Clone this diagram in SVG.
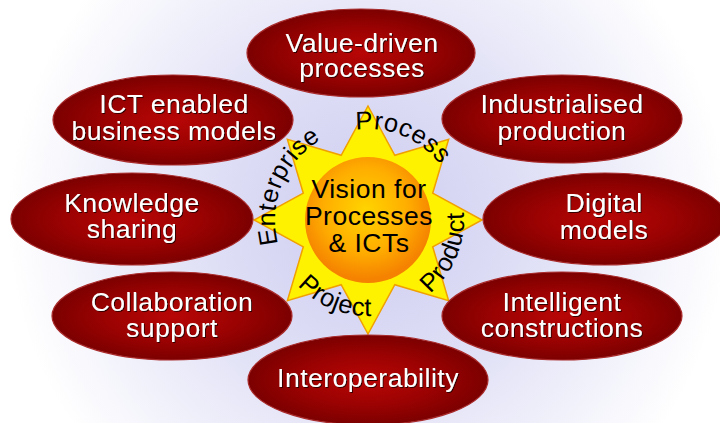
<svg xmlns="http://www.w3.org/2000/svg" width="720" height="423" viewBox="0 0 720 423">
<defs>
<radialGradient id="bg" gradientUnits="userSpaceOnUse" cx="368" cy="220" r="360">
<stop offset="0" stop-color="#cdcdf1"/>
<stop offset="0.45" stop-color="#dfdff6"/>
<stop offset="1" stop-color="#ffffff"/>
</radialGradient>
<radialGradient id="red" cx="50%" cy="50%" r="50%">
<stop offset="0" stop-color="#b80606"/>
<stop offset="0.55" stop-color="#9c0202"/>
<stop offset="1" stop-color="#7c0000"/>
</radialGradient>
<radialGradient id="sun" cx="48%" cy="42%" r="55%">
<stop offset="0" stop-color="#ffd400"/>
<stop offset="0.6" stop-color="#ffae00"/>
<stop offset="1" stop-color="#f58200"/>
</radialGradient>
<filter id="sh" x="-10%" y="-20%" width="120%" height="140%">
<feDropShadow dx="1" dy="1" stdDeviation="0.6" flood-color="#2a0000" flood-opacity="0.9"/>
</filter>
<path id="pEnt" d="M 294.2 276.6 A 93 93 0 0 1 355.9 127.8"/>
<path id="pProc" d="M 312.6 147.8 A 91 91 0 0 1 458.2 208.1"/>
<path id="pProd" d="M 380.5 315.2 A 96 96 0 0 0 444.2 161.6"/>
<path id="pProj" d="M 272.8 232.5 A 96 96 0 0 0 426.4 296.2"/>
</defs>
<style>
.node ellipse { fill: url(#red); stroke: #a82a2a; stroke-width: 1.2; }
.node text { fill: #ffffff; font-family: "Liberation Sans", Arial, sans-serif; font-size: 26.5px; letter-spacing: 0.5px; text-anchor: middle; filter: url(#sh); }
.ctext { fill: #000000; font-family: "Liberation Sans", Arial, sans-serif; font-size: 26.5px; letter-spacing: 0.5px; text-anchor: middle; }
.arc { fill: #000000; font-family: "Liberation Sans", Arial, sans-serif; font-size: 25.5px; letter-spacing: 0.5px; text-anchor: middle; }
</style>
<rect x="0" y="0" width="720" height="423" fill="url(#bg)"/>

<g id="center">
<polygon points="368,106 394.8,155.3 448.6,139.4 432.7,193.2 482,220 432.7,246.8 448.6,300.6 394.8,284.7 368,334 341.2,284.7 287.4,300.6 303.3,246.8 254,220 303.3,193.2 287.4,139.4 341.2,155.3" fill="#fff200" stroke="#f0a000" stroke-width="1.5" stroke-linejoin="miter"/>
<circle cx="368" cy="220" r="63" fill="url(#sun)"/>
<text class="ctext" x="369" y="198">Vision for</text>
<text class="ctext" x="369" y="225">Processes</text>
<text class="ctext" x="369" y="252">&amp; ICTs</text>
<text class="arc"><textPath href="#pEnt" startOffset="50%">Enterprise</textPath></text>
<text class="arc"><textPath href="#pProc" startOffset="50%">Process</textPath></text>
<text class="arc"><textPath href="#pProd" startOffset="50%">Product</textPath></text>
<text class="arc"><textPath href="#pProj" startOffset="50%">Project</textPath></text>
</g>

<g id="connectors"></g>

<g id="value" class="node">
<ellipse cx="361" cy="53" rx="114" ry="44"/>
<text x="362" y="52">Value-driven</text>
<text x="362" y="77">processes</text>
</g>
<g id="industrialised" class="node">
<ellipse cx="562" cy="119" rx="120" ry="44"/>
<text x="562" y="113">Industrialised</text>
<text x="562" y="140">production</text>
</g>
<g id="digital" class="node">
<ellipse cx="605" cy="219" rx="122" ry="46"/>
<text x="604" y="212">Digital</text>
<text x="604" y="239">models</text>
</g>
<g id="intelligent" class="node">
<ellipse cx="562" cy="316" rx="120" ry="44"/>
<text x="562" y="311">Intelligent</text>
<text x="562" y="337">constructions</text>
</g>
<g id="interoperability" class="node">
<ellipse cx="368" cy="380" rx="120" ry="45"/>
<text x="368" y="387">Interoperability</text>
</g>
<g id="collaboration" class="node">
<ellipse cx="172" cy="316" rx="120" ry="44"/>
<text x="172" y="311">Collaboration</text>
<text x="172" y="337">support</text>
</g>
<g id="knowledge" class="node">
<ellipse cx="132" cy="219" rx="121" ry="46"/>
<text x="132" y="212">Knowledge</text>
<text x="132" y="238">sharing</text>
</g>
<g id="ict" class="node">
<ellipse cx="173" cy="120" rx="120" ry="45"/>
<text x="174" y="113">ICT enabled</text>
<text x="174" y="140">business models</text>
</g>
</svg>
